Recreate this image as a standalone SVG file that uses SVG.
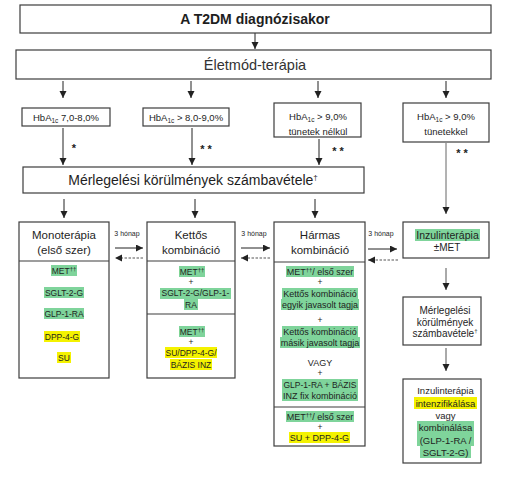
<svg xmlns="http://www.w3.org/2000/svg" width="509" height="482" viewBox="0 0 509 482">
<style>
text{font-family:"Liberation Sans",Arial,sans-serif;fill:#1e1e1e;text-anchor:middle}
.box{fill:#fff;stroke:#3c3c3c;stroke-width:1.2}
.div{stroke:#3c3c3c;stroke-width:1.2}
.ln{stroke:#222;stroke-width:1;fill:none}
.dash{stroke:#555;stroke-width:1;fill:none;stroke-dasharray:2.5 1.5}
.g{fill:#7fd49b}
.y{fill:#f4f200}
.s{font-size:8.5px}
.h{font-size:9px}
.hb{font-size:9.5px}
.hd{font-size:11.5px}
.mo{font-size:7px}
.st{font-size:11px;font-weight:bold;fill:#222}
</style>
<defs>
<marker id="ah" markerUnits="userSpaceOnUse" markerWidth="8" markerHeight="8" refX="7" refY="3.5" orient="auto">
<path d="M0,0 L7,3.5 L0,7 z" fill="#222"/>
</marker>
</defs>

<g id="connectors">
<line class="ln" x1="255" y1="33" x2="255" y2="49" marker-end="url(#ah)"/>
<line class="ln" x1="63" y1="81" x2="63" y2="98" marker-end="url(#ah)"/>
<line class="ln" x1="191" y1="81" x2="191" y2="98" marker-end="url(#ah)"/>
<line class="ln" x1="318" y1="81" x2="318" y2="98" marker-end="url(#ah)"/>
<line class="ln" x1="446" y1="81" x2="446" y2="98" marker-end="url(#ah)"/>
<line class="ln" x1="63" y1="128" x2="63" y2="165" marker-end="url(#ah)"/>
<line class="ln" x1="192" y1="128" x2="192" y2="165" marker-end="url(#ah)"/>
<line class="ln" x1="319" y1="139" x2="319" y2="165" marker-end="url(#ah)"/>
<line class="ln" x1="446" y1="143" x2="446" y2="214" marker-end="url(#ah)" style="stroke:#666"/>
<text class="st" x="74" y="152">*</text>
<text class="st" x="206" y="153">* *</text>
<text class="st" x="338" y="155">* *</text>
<text class="st" x="462" y="157">* *</text>
<line class="ln" x1="64" y1="199" x2="64" y2="218" marker-end="url(#ah)"/>
<line class="ln" x1="195" y1="199" x2="195" y2="218" marker-end="url(#ah)"/>
<line class="ln" x1="315" y1="199" x2="315" y2="218" marker-end="url(#ah)"/>
<text class="mo" x="127" y="236">3 hónap</text>
<line class="ln" x1="115" y1="248" x2="143" y2="248" marker-end="url(#ah)"/>
<line class="dash" x1="143" y1="258" x2="115" y2="258" marker-end="url(#ah)"/>
<text class="mo" x="254" y="236">3 hónap</text>
<line class="ln" x1="241" y1="248" x2="270" y2="248" marker-end="url(#ah)"/>
<line class="dash" x1="270" y1="258" x2="241" y2="258" marker-end="url(#ah)"/>
<text class="mo" x="381" y="236">3 hónap</text>
<line class="ln" x1="368" y1="249" x2="397" y2="249" marker-end="url(#ah)"/>
<line class="dash" x1="398" y1="260" x2="368" y2="260" marker-end="url(#ah)"/>
<line class="ln" x1="446" y1="268" x2="446" y2="290" marker-end="url(#ah)" style="stroke:#555"/>
<line class="ln" x1="446" y1="348" x2="446" y2="371" marker-end="url(#ah)" style="stroke:#555"/>
</g>

<g id="diagnosis">
<rect class="box" x="20" y="5" width="471" height="28"/>
<text x="255" y="24" style="font-size:14px;font-weight:bold">A T2DM diagnózisakor</text>
</g>
<g id="lifestyle">
<rect class="box" x="16" y="50" width="475" height="29"/>
<text x="255" y="69.5" style="font-size:14.5px;fill:#333">Életmód-terápia</text>
</g>
<g id="hba1">
<rect class="box" x="22" y="108" width="88" height="18"/>
<text class="hb" x="66" y="120.5">HbA<tspan font-size="6.5" dy="2">1c</tspan><tspan dy="-2"> 7,0-8,0%</tspan></text>
</g>
<g id="hba2">
<rect class="box" x="143" y="108" width="86" height="18"/>
<text class="hb" x="186" y="120.5">HbA<tspan font-size="6.5" dy="2">1c</tspan><tspan dy="-2"> &gt; 8,0-9,0%</tspan></text>
</g>
<g id="hba3">
<rect class="box" x="274" y="103" width="87" height="34"/>
<text class="hb" x="318" y="119.5">HbA<tspan font-size="6.5" dy="2">1c</tspan><tspan dy="-2"> &gt; 9,0%</tspan></text>
<text class="hb" x="318" y="134.5">tünetek nélkül</text>
</g>
<g id="hba4">
<rect class="box" x="403" y="103" width="86" height="39"/>
<text class="hb" x="446" y="119.5">HbA<tspan font-size="6.5" dy="2">1c</tspan><tspan dy="-2"> &gt; 9,0%</tspan></text>
<text class="hb" x="446" y="135">tünetekkel</text>
</g>
<g id="consider">
<rect class="box" x="23" y="167" width="341" height="26"/>
<text x="193" y="185" style="font-size:14px">Mérlegelési körülmények számbavétele<tspan font-size="8" dy="-5">†</tspan></text>
</g>

<g id="mono">
<rect class="box" x="19" y="222" width="90" height="156"/>
<line class="div" x1="19" y1="261" x2="109" y2="261"/>
<text class="hd" x="64" y="239">Monoterápia</text>
<text class="hd" x="64" y="254">(első szer)</text>
<rect class="g" x="51" y="265" width="26" height="11"/>
<rect class="g" x="44" y="287" width="40" height="11"/>
<rect class="g" x="44" y="308" width="40" height="11"/>
<rect class="y" x="44" y="331" width="36" height="11"/>
<rect class="y" x="57" y="352" width="14" height="11"/>
<text class="s" x="64" y="274">MET<tspan font-size="6" dy="-3">††</tspan></text>
<text class="s" x="64" y="296">SGLT-2-G</text>
<text class="s" x="64" y="317">GLP-1-RA</text>
<text class="s" x="62" y="340">DPP-4-G</text>
<text class="s" x="64" y="361">SU</text>
</g>

<g id="dual">
<rect class="box" x="147" y="222" width="88" height="156"/>
<line class="div" x1="147" y1="261" x2="235" y2="261"/>
<line class="div" x1="147" y1="314" x2="235" y2="314"/>
<text class="hd" x="191" y="239">Kettős</text>
<text class="hd" x="191" y="254">kombináció</text>
<rect class="g" x="179" y="266" width="26" height="11"/>
<rect class="g" x="160" y="288" width="71" height="11"/>
<rect class="g" x="184" y="299" width="14" height="11"/>
<text class="s" x="192" y="275">MET<tspan font-size="6" dy="-3">††</tspan></text>
<text class="s" x="191" y="285">+</text>
<text class="s" x="195.5" y="296">SGLT-2-G/GLP-1-</text>
<text class="s" x="191" y="308">RA</text>
<rect class="g" x="179" y="326" width="26" height="11"/>
<rect class="y" x="165" y="347" width="52" height="11"/>
<rect class="y" x="170" y="359" width="42" height="11"/>
<text class="s" x="192" y="335">MET<tspan font-size="6" dy="-3">††</tspan></text>
<text class="s" x="191" y="345">+</text>
<text class="s" x="191" y="356">SU/DPP-4-G/</text>
<text class="s" x="191" y="368">BÁZIS INZ</text>
</g>

<g id="triple">
<rect class="box" x="274" y="222" width="91" height="224"/>
<line class="div" x1="274" y1="262" x2="365" y2="262"/>
<line class="div" x1="274" y1="407" x2="365" y2="407"/>
<text class="hd" x="320" y="239">Hármas</text>
<text class="hd" x="320" y="254">kombináció</text>
<rect class="g" x="286" y="266" width="68" height="11"/>
<rect class="g" x="282" y="288" width="76" height="11"/>
<rect class="g" x="281" y="299" width="78" height="11"/>
<rect class="g" x="282" y="326" width="76" height="11"/>
<rect class="g" x="280" y="337" width="80" height="11"/>
<rect class="g" x="282" y="379" width="76" height="11"/>
<rect class="g" x="282" y="390" width="76" height="11"/>
<text class="h" x="320" y="275">MET<tspan font-size="6" dy="-3">††</tspan><tspan dy="3">/ első szer</tspan></text>
<text class="s" x="320" y="285">+</text>
<text class="h" x="320" y="296.5">Kettős kombináció</text>
<text class="h" x="320" y="307.5">egyik javasolt tagja</text>
<text class="s" x="320" y="323">+</text>
<text class="h" x="320" y="334.5">Kettős kombináció</text>
<text class="h" x="320" y="345.5">másik javasolt tagja</text>
<text class="h" x="320" y="366">VAGY</text>
<text class="s" x="320" y="376">+</text>
<text class="s" x="320" y="388">GLP-1-RA + BÁZIS</text>
<text class="h" x="320" y="399">INZ fix kombináció</text>
<rect class="g" x="286" y="411" width="68" height="11"/>
<rect class="y" x="289" y="432" width="61" height="11"/>
<text class="h" x="320" y="420">MET<tspan font-size="6" dy="-3">††</tspan><tspan dy="3">/ első szer</tspan></text>
<text class="s" x="320" y="430">+</text>
<text class="h" x="319.5" y="441">SU + DPP-4-G</text>
</g>

<g id="insulin">
<rect class="box" x="403" y="222" width="86" height="36"/>
<rect class="g" x="415" y="229" width="65" height="12"/>
<text x="447.5" y="238.5" style="font-size:10.5px">Inzulinterápia</text>
<text x="447" y="251" style="font-size:10px">±MET</text>
</g>

<g id="consider2">
<rect class="box" x="403" y="297" width="78" height="48"/>
<text x="445" y="313.5" style="font-size:10px">Mérlegelési</text>
<text x="445" y="325.5" style="font-size:10px">körülmények</text>
<text x="445" y="337" style="font-size:10px">számbavétele<tspan font-size="6" dy="-4">†</tspan></text>
</g>

<g id="intensify">
<rect class="box" x="403" y="379" width="78" height="84"/>
<rect class="y" x="414" y="397" width="63" height="12"/>
<rect class="g" x="417" y="421" width="57" height="12"/>
<rect class="g" x="417" y="433" width="57" height="13"/>
<rect class="g" x="420" y="446" width="51" height="12"/>
<text x="445.5" y="393.5" style="font-size:9.5px">Inzulinterápia</text>
<text x="445.5" y="406.5" style="font-size:9.5px">intenzifikálása</text>
<text x="445.5" y="418.5" style="font-size:9.5px">vagy</text>
<text x="445.5" y="430.5" style="font-size:9.5px">kombinálása</text>
<text x="445.5" y="443.5" style="font-size:9.5px">(GLP-1-RA /</text>
<text x="445.5" y="455.5" style="font-size:9.5px">SGLT-2-G)</text>
</g>
</svg>
